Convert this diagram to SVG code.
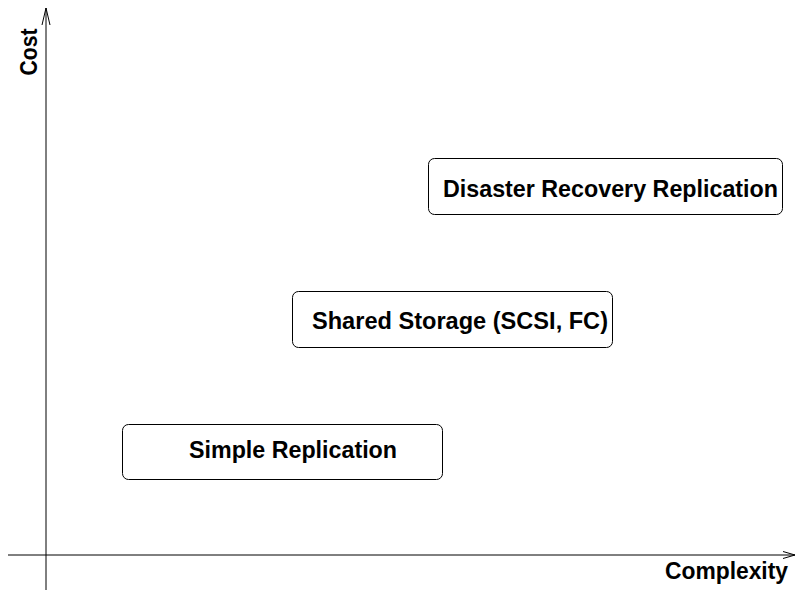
<svg xmlns="http://www.w3.org/2000/svg" width="796" height="590" viewBox="0 0 796 590">
<style>
.box{fill:#fff;stroke:#000;stroke-width:1}
.lbl{font-family:"Liberation Sans",Arial,sans-serif;font-weight:bold;font-size:24px;fill:#000}
.ax{font-family:"Liberation Sans",Arial,sans-serif;font-weight:bold;font-size:23px;fill:#000}
.axis{stroke:#000;stroke-width:1;fill:none}
</style>
<rect width="796" height="590" fill="#fff"/>
<g id="axes">
<line class="axis" x1="46" y1="590" x2="46" y2="8"/>
<polyline class="axis" points="42,25 46,8 50,25"/>
<line class="axis" x1="8" y1="555" x2="795" y2="555"/>
<polyline class="axis" points="783,551.5 795,555 783,558.5"/>
<text class="ax" transform="translate(37,52) rotate(-90)" text-anchor="middle" textLength="47" lengthAdjust="spacingAndGlyphs">Cost</text>
<text class="ax" x="665" y="579" textLength="123" lengthAdjust="spacingAndGlyphs">Complexity</text>
</g>
<g id="disaster">
<rect class="box" x="428.5" y="158.5" width="354" height="56" rx="6"/>
<text class="lbl" x="443" y="197" textLength="335" lengthAdjust="spacingAndGlyphs">Disaster Recovery Replication</text>
</g>
<g id="shared">
<rect class="box" x="292.5" y="291.5" width="320" height="56" rx="6"/>
<text class="lbl" x="312" y="329" textLength="296" lengthAdjust="spacingAndGlyphs">Shared Storage (SCSI, FC)</text>
</g>
<g id="simple">
<rect class="box" x="122.5" y="424.5" width="320" height="55" rx="6"/>
<text class="lbl" x="189" y="458" textLength="208" lengthAdjust="spacingAndGlyphs">Simple Replication</text>
</g>
</svg>
